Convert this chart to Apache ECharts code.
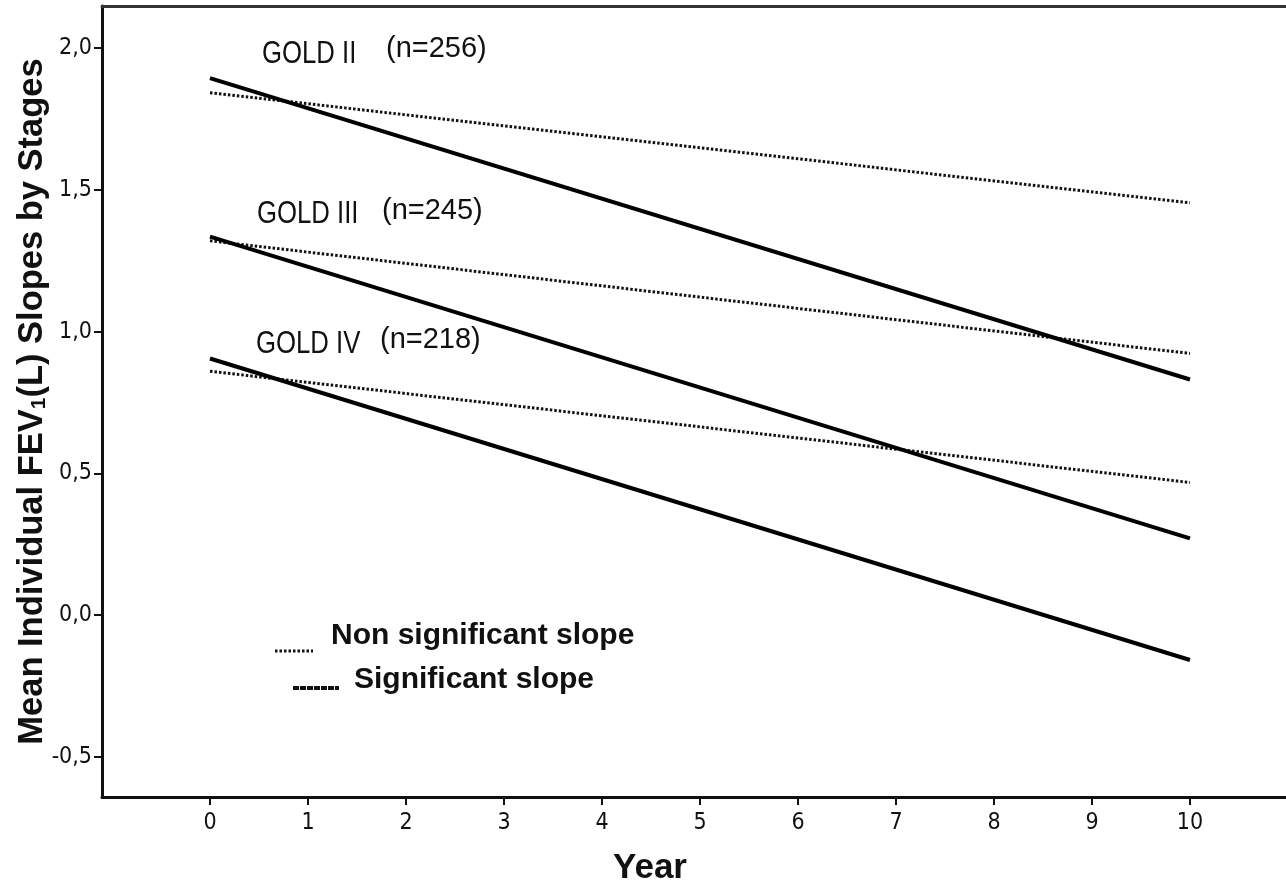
<!DOCTYPE html>
<html>
<head>
<meta charset="utf-8">
<script src="https://cdn.jsdelivr.net/npm/echarts@6/dist/echarts.min.js"></script>
<style>
html,body{margin:0;padding:0;background:#fff;}
#chart{width:1286px;height:884px;}
</style>
</head>
<body>
<div id="chart"></div>
<script>
// ---- data ----
const years = [0, 10];
const xTicks = [0, 1, 2, 3, 4, 5, 6, 7, 8, 9, 10];
const yTicks = [-0.5, 0, 0.5, 1.0, 1.5, 2.0];
const goldII_nonsig = [1.842, 1.454];
const goldII_sig = [1.894, 0.831];
const goldIII_nonsig = [1.320, 0.923];
const goldIII_sig = [1.335, 0.271];
const goldIV_nonsig = [0.860, 0.468];
const goldIV_sig = [0.905, -0.158];
const groupLabels = ['GOLD II', 'GOLD III', 'GOLD IV'];
const groupN = ['(n=256)', '(n=245)', '(n=218)'];
const legendLabels = ['Non significant slope', 'Significant slope'];

const narrow = "'DejaVu Sans Condensed', 'Liberation Sans Narrow', sans-serif";
const sans = "'Liberation Sans', Arial, sans-serif";

function pts(vals){ return years.map((y,i)=>[y, vals[i]]); }
const dotStyle = {color:'#111', width:3, type:[2.5,2]};
const solidStyle = {color:'#000', width:4, type:'solid'};

function mkLine(name, vals, style){
  return {name, type:'line', data:pts(vals), symbol:'none', lineStyle:style, silent:true, animation:false, z: style.type==='solid'?3:2};
}

function goldText(txt, x, y){
  return {type:'text', x:x, y:y, scaleX:0.83, style:{text:txt, font:'31px '+sans, fill:'#111', textAlign:'left', textVerticalAlign:'middle'}};
}
function nText(txt, x, y){
  return {type:'text', x:x, y:y, style:{text:txt, font:'29px '+sans, fill:'#111', textAlign:'left', textVerticalAlign:'middle'}};
}

const chart = echarts.init(document.getElementById('chart'), null, {renderer:'canvas'});
chart.setOption({
  animation:false,
  backgroundColor:'#fff',
  grid:{left:102, right:0, top:6, bottom:87, containLabel:false, outerBoundsMode:'none'},
  xAxis:[{
    type:'value', min:-1.102, max:10.98,
    name:'Year', nameLocation:'middle', nameGap:54,
    nameTextStyle:{fontFamily:sans, fontWeight:'bold', fontSize:35, color:'#111', padding:[0,88,0,0]},
    axisLine:{show:true, onZero:false, lineStyle:{color:'#111', width:3}},
    axisTick:{show:true, length:8, lineStyle:{color:'#111', width:2}, customValues:xTicks},
    axisLabel:{show:true, customValues:xTicks, fontFamily:narrow, fontSize:23, color:'#111', margin:15},
    splitLine:{show:false}
  },{
    type:'value', position:'top', min:-1.102, max:10.98,
    axisLine:{show:true, onZero:false, lineStyle:{color:'#333', width:3}},
    axisTick:{show:false}, axisLabel:{show:false}, splitLine:{show:false}
  }],
  yAxis:{
    type:'value', min:-0.641, max:2.148,
    name:'Mean Individual FEV{sub|1}(L) Slopes by Stages',
    nameLocation:'middle', nameGap:52, nameRotate:90, nameMoveOverlap:false,
    nameTextStyle:{fontFamily:sans, fontWeight:'bold', fontSize:34.5, color:'#111',
      rich:{sub:{fontFamily:sans, fontWeight:'bold', fontSize:21, color:'#111', verticalAlign:'bottom', padding:[12,0,0,0]}}},
    axisLine:{show:true, onZero:false, lineStyle:{color:'#111', width:3}},
    axisTick:{show:true, length:8, inside:false, customValues:yTicks, lineStyle:{color:'#111', width:2}},
    axisLabel:{show:true, customValues:yTicks, fontFamily:narrow, fontSize:23, color:'#111', margin:10,
      formatter:v=>v.toFixed(1).replace('.', ',')},
    splitLine:{show:false}
  },
  series:[
    mkLine('GOLD II non-sig', goldII_nonsig, dotStyle),
    mkLine('GOLD II sig', goldII_sig, solidStyle),
    mkLine('GOLD III non-sig', goldIII_nonsig, dotStyle),
    mkLine('GOLD III sig', goldIII_sig, solidStyle),
    mkLine('GOLD IV non-sig', goldIV_nonsig, dotStyle),
    mkLine('GOLD IV sig', goldIV_sig, solidStyle)
  ],
  graphic:[
    goldText(groupLabels[0], 262, 54),
    nText(groupN[0], 386, 49),
    goldText(groupLabels[1], 257, 214),
    nText(groupN[1], 382, 211),
    goldText(groupLabels[2], 256, 344),
    nText(groupN[2], 380, 340),
    {type:'line', shape:{x1:275, y1:651, x2:313, y2:651}, style:{stroke:'#111', lineWidth:3, lineDash:[2.5,2]}},
    {type:'text', x:331, y:636, style:{text:legendLabels[0], font:'bold 30px '+sans, fill:'#111', textAlign:'left', textVerticalAlign:'middle'}},
    {type:'line', shape:{x1:293, y1:688, x2:339, y2:688}, style:{stroke:'#111', lineWidth:4, lineDash:[6,1]}},
    {type:'text', x:354, y:680, style:{text:legendLabels[1], font:'bold 30px '+sans, fill:'#111', textAlign:'left', textVerticalAlign:'middle'}}
  ]
});
</script>
</body>
</html>
